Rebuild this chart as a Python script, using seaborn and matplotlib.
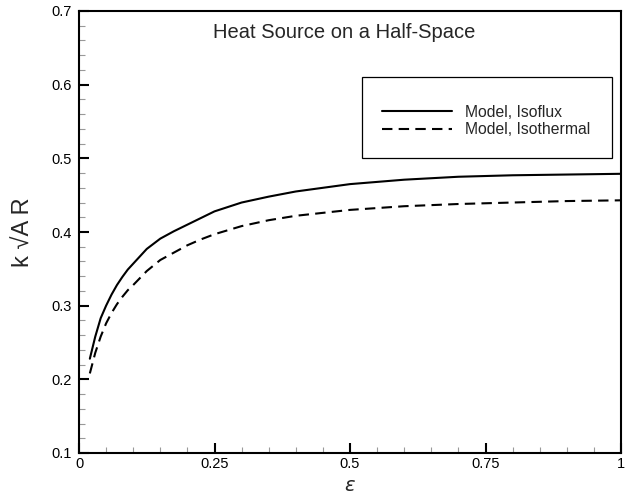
import matplotlib
matplotlib.use("Agg")
import matplotlib.pyplot as plt
from matplotlib.patches import Rectangle
from matplotlib.ticker import MultipleLocator, FormatStrFormatter
import seaborn as sns
import numpy as np

# values
eps = [0.02, 0.03, 0.04, 0.05, 0.06, 0.07, 0.08, 0.09, 0.1, 0.125, 0.15, 0.175,
       0.2, 0.225, 0.25, 0.3, 0.35, 0.4, 0.45, 0.5, 0.6, 0.7, 0.8, 0.9, 1.0]
isoflux = [0.228, 0.258, 0.283, 0.300, 0.315, 0.328, 0.339, 0.349, 0.357, 0.377,
           0.391, 0.401, 0.410, 0.419, 0.428, 0.440, 0.448, 0.455, 0.460, 0.465,
           0.471, 0.475, 0.477, 0.478, 0.479]
isothermal = [0.208, 0.236, 0.258, 0.276, 0.290, 0.302, 0.312, 0.321, 0.328, 0.347,
              0.362, 0.372, 0.382, 0.390, 0.397, 0.408, 0.416, 0.422, 0.426, 0.430,
              0.435, 0.438, 0.440, 0.442, 0.443]

x_ticks = [0, 0.25, 0.5, 0.75, 1]
x_tick_labels = ["0", "0.25", "0.5", "0.75", "1"]
y_ticks = [0.1, 0.2, 0.3, 0.4, 0.5, 0.6, 0.7]

sns.set_style("white")
plt.rcParams["font.family"] = ["Liberation Sans", "DejaVu Sans"]

fig = plt.figure(figsize=(6.41, 4.96), dpi=100)
ax = fig.add_axes([79 / 641, 43 / 496, 542 / 641, 442 / 496])

sns.lineplot(x=eps, y=isoflux, color="black", linewidth=1.5,
             label="Model, Isoflux", ax=ax)
sns.lineplot(x=eps, y=isothermal, color="black", linewidth=1.5,
             linestyle=(0, (5, 3)), label="Model, Isothermal", ax=ax)

ax.set_xlim(0, 1)
ax.set_ylim(0.1, 0.7)
ax.set_xticks(x_ticks)
ax.set_xticklabels(x_tick_labels)
ax.set_yticks(y_ticks)
ax.yaxis.set_major_formatter(FormatStrFormatter("%.1f"))
ax.xaxis.set_minor_locator(MultipleLocator(0.05))
ax.yaxis.set_minor_locator(MultipleLocator(0.02))
ax.tick_params(which="both", direction="in", bottom=True, left=True,
               top=False, right=False, labelsize=10.5, labelcolor="black")
ax.tick_params(which="major", length=7, width=1.5, color="black")
ax.tick_params(axis="y", which="major", pad=5)
ax.tick_params(axis="x", which="major", pad=3)
ax.tick_params(which="minor", length=4, width=0.8, color="#999999")

for s in ax.spines.values():
    s.set_linewidth(1.5)
    s.set_color("black")

ax.set_xlabel(r"$\varepsilon$", fontsize=14, labelpad=5)
ax.set_ylabel("k \u221aA R", fontsize=17, labelpad=12)
ax.text(0.489, 0.952, "Heat Source on a Half-Space", transform=ax.transAxes,
        ha="center", va="center", fontsize=14.5)

# legend box
ax.add_patch(Rectangle((0.522, 0.667), 0.461, 0.184, transform=ax.transAxes,
                       fill=False, edgecolor="black", linewidth=0.9, zorder=3))
handles, labels = ax.get_legend_handles_labels()
ax.legend(handles, labels, loc="center left", bbox_to_anchor=(0.559, 0.751),
          frameon=False, fontsize=11.3, borderpad=0, borderaxespad=0,
          handlelength=4.45, handletextpad=0.83, labelspacing=0.15)

fig.savefig("out.png", dpi=100)
